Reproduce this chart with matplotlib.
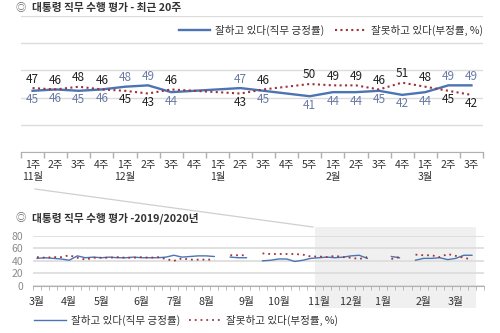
import numpy as np
import matplotlib
matplotlib.use("Agg")
import matplotlib.pyplot as plt
from matplotlib.lines import Line2D
from matplotlib.patches import Rectangle
import matplotlib.transforms as mtransforms

plt.rcParams['font.family'] = ['Noto Sans CJK KR', 'DejaVu Sans']

nan = np.nan

# 최근 20주 (2019년 11월 1주 ~ 2020년 3월 3주)
week_labels = ['1주', '2주', '3주', '4주',
               '1주', '2주', '3주', '4주',
               '1주', '2주', '3주', '4주', '5주',
               '1주', '2주', '3주', '4주',
               '1주', '2주', '3주']
month_names = ['11월', '12월', '1월', '2월', '3월']
month_first_week = [0, 4, 8, 13, 17]

approve_20 = [45, 46, 45, 46, 48, 49, 44, nan, nan, 47, 45, nan,
              41, 44, 44, 45, 42, 44, 49, 49]
disapprove_20 = [47, 46, 48, 46, 45, 43, 46, nan, nan, 43, 46, nan,
                 50, 49, 49, 46, 51, 48, 45, 42]

# 2019/2020년 주간 (2019년 3월 1주부터)
approve_year = [44, 45, 44, 43,
                41, 48, 45, 46,
                45, 46, 45, 45, 46,
                45, 45, 45, 46,
                49, 46, 47, 48,
                48, 47, nan, 46, 45, 45,
                nan, 40, 41, 43,
                43, 39, 41, 44] + approve_20
disapprove_year = [46, 45, 46, 46,
                   49, 45, 42, 45,
                   45, 45, 46, 45, 45,
                   46, 45, 46, 43,
                   40, 44, 42, 42,
                   42, 42, nan, 49, 49, 49,
                   nan, 52, 51, 51,
                   51, 51, 50, 47] + disapprove_20
year_months = ['3월', '4월', '5월', '6월', '7월', '8월', '9월', '10월',
               '11월', '12월', '1월', '2월', '3월']
year_month_slots = [0, 4, 8, 13, 17, 21, 26, 30, 35, 39, 43, 48, 52]
n_slots = 56

blue = '#4a74b4'
red = '#a0333a'
lbl_blue = '#6b7ba6'
lbl_dark = '#222222'
grid_c = '#dcdcdc'
dots = (0, (1, 1.6))

fig = plt.figure(figsize=(5, 3.33), dpi=100)
W, H = 500, 333


def fx(px):
    return px / W


def fy(py):
    return 1 - py / H


# ---------- top chart: last 20 weeks ----------
ax = fig.add_axes([fx(21), fy(152), fx(483) - fx(21), fy(16) - fy(152)])
x = np.arange(len(week_labels))
a = np.array(approve_20, dtype=float)
d = np.array(disapprove_20, dtype=float)
ma = ~np.isnan(a)
md = ~np.isnan(d)
ax.plot(x[ma], a[ma], color=blue, lw=1.7, solid_joinstyle='round', zorder=3)
ax.plot(x[md], d[md], color=red, lw=1.5, linestyle=dots, zorder=3)

for i in range(len(x)):
    if np.isnan(a[i]) or np.isnan(d[i]):
        continue
    if a[i] > d[i]:
        hi, hc, lo, lc = a[i], lbl_blue, d[i], lbl_dark
    else:
        hi, hc, lo, lc = d[i], lbl_dark, a[i], lbl_blue
    ax.annotate(f'{hi:.0f}', (x[i], hi), xytext=(0, 6.5), textcoords='offset points',
                ha='center', va='center', fontsize=8.5, color=hc)
    ax.annotate(f'{lo:.0f}', (x[i], lo), xytext=(0, -6.5), textcoords='offset points',
                ha='center', va='center', fontsize=8.5, color=lc)

ax.set_xlim(-0.5, len(x) - 0.5)
ax.set_ylim(0, 100)
ax.set_yticks([0, 20, 40, 60, 80, 100])
ax.yaxis.grid(True, color=grid_c, lw=1)
ax.set_axisbelow(True)
ax.tick_params(axis='y', length=0, labelleft=False)
ax.set_xticks(np.arange(-0.5, len(x)), minor=False)
ax.set_xticklabels([])
ax.tick_params(axis='x', which='major', length=4, color='#b0b0b0', width=1)
tick_text = []
for i, w in enumerate(week_labels):
    if i in month_first_week:
        tick_text.append(w + '\n' + month_names[month_first_week.index(i)])
    else:
        tick_text.append(w)
ax.set_xticks(x, minor=True)
ax.set_xticklabels(tick_text, minor=True, fontsize=7.5, color='#333333', va='top')
ax.tick_params(axis='x', which='minor', length=0, pad=6)
for s in ['top', 'left', 'right']:
    ax.spines[s].set_visible(False)
ax.spines['bottom'].set_color('#b0b0b0')

fig.text(fx(16), fy(8), '◎', fontsize=7.5, color='#666666', va='center', ha='left')
fig.text(fx(32), fy(8), '대통령 직무 수행 평가 - 최근 20주', fontsize=7.7,
         fontweight='bold', color='#333333', va='center', ha='left')

handles = [Line2D([], [], color=blue, lw=1.7),
           Line2D([], [], color=red, lw=1.5, linestyle=dots)]
names = ['잘하고 있다(직무 긍정률)', '잘못하고 있다(부정률, %)']
fig.legend(handles, names, loc='center', bbox_to_anchor=(fx(331), fy(30)), ncol=2,
           frameon=False, fontsize=7.6, handlelength=2.9, handletextpad=0.5,
           columnspacing=1.0, labelcolor='#333333')

# ---------- bottom chart: 2019/2020 ----------
ax2 = fig.add_axes([fx(33), fy(285.7), fx(484) - fx(33), fy(236) - fy(285.7)])
ax2.set_facecolor('none')
xs = np.arange(len(approve_year))
ax2.plot(xs, approve_year, color=blue, lw=1.0, zorder=3)
ax2.plot(xs, disapprove_year, color=red, lw=1.3, linestyle=(0, (1, 2.2)), zorder=3)
ax2.set_xlim(-0.5, n_slots - 0.5)
ax2.set_ylim(0, 80)
ax2.set_yticks([0, 20, 40, 60, 80])
ax2.yaxis.grid(True, color=grid_c, lw=1.2)
ax2.set_axisbelow(True)
ax2.tick_params(axis='y', length=0, labelsize=7.5, labelcolor='#8a8a8a', pad=7)
ax2.set_xticks(year_month_slots)
ax2.set_xticklabels(year_months, fontsize=7.7, color='#333333')
ax2.tick_params(axis='x', which='major', length=0, pad=8)
ax2.set_xticks(np.arange(-0.5, n_slots), minor=True)
ax2.tick_params(axis='x', which='minor', length=3, color='#b0b0b0')
for s in ['top', 'left', 'right']:
    ax2.spines[s].set_visible(False)
ax2.spines['bottom'].set_color('#b0b0b0')

# shaded span for the recent 20 weeks
blend = mtransforms.blended_transform_factory(ax2.transData, fig.transFigure)
ax2.add_patch(Rectangle((34.5, fy(308)), 20, fy(227) - fy(308), transform=blend,
                        facecolor='#f0f0f0', edgecolor='none', zorder=0.1, clip_on=False))
fig.add_artist(Line2D([fx(35), fx(313)], [fy(189), fy(227)], color='#cfcfcf', lw=0.9))

fig.text(fx(16), fy(218), '◎', fontsize=7.5, color='#666666', va='center', ha='left')
fig.text(fx(32), fy(218), '대통령 직무 수행 평가 -2019/2020년', fontsize=7.7,
         fontweight='bold', color='#333333', va='center', ha='left')

handles2 = [Line2D([], [], color=blue, lw=1.0),
            Line2D([], [], color=red, lw=1.3, linestyle=(0, (1, 2.2)))]
fig.legend(handles2, names, loc='center', bbox_to_anchor=(fx(186), fy(320)), ncol=2,
           frameon=False, fontsize=7.6, handlelength=3.0, handletextpad=0.5,
           columnspacing=0.8, labelcolor='#333333')

fig.savefig('out.png', dpi=100, facecolor='white')
